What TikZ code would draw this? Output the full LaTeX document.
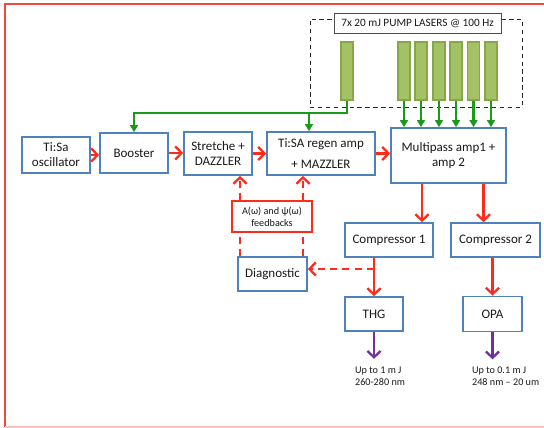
\documentclass[tikz,border=0pt]{standalone}
\usepackage{fontspec}
\setmainfont{Carlito}
\usetikzlibrary{arrows.meta, positioning, calc}
\definecolor{BoxBlue}{HTML}{4F81BD}
\definecolor{BeamRed}{HTML}{FF2A1A}
\definecolor{FrameRed}{HTML}{F04A40}
\definecolor{PumpGreen}{HTML}{1A9A1A}
\definecolor{LaserFill}{HTML}{A4C165}
\definecolor{LaserEdge}{HTML}{86A64A}
\definecolor{OutPurple}{HTML}{7030A0}
\definecolor{TextDark}{HTML}{1A1A1A}

\begin{document}
\begin{tikzpicture}[
        x=0.02cm, y=-0.02cm,
        blk/.style={rectangle, draw=BoxBlue, line width=1pt, fill=white, align=center, inner sep=1pt, text=TextDark, font=\fontsize{7.4}{8.6}\selectfont},
        fbbox/.style={rectangle, draw=BeamRed, line width=0.9pt, fill=white, align=center, inner sep=1pt, text=TextDark, font=\fontsize{5.8}{7}\selectfont},
        laser/.style={rectangle, draw=LaserEdge, line width=0.7pt, fill=LaserFill, minimum width=0.24cm, minimum height=1.16cm, inner sep=0pt},
        outtxt/.style={align=left, inner sep=1pt, text=TextDark, font=\fontsize{5.8}{6.8}\selectfont},
        arr/.style={-{Straight Barb[length=3.6pt, width=7.5pt, line width=1.3pt]}, line width=1.4pt, BeamRed},
        darr/.style={arr, dash pattern=on 4pt off 3pt},
        dline/.style={line width=1.4pt, BeamRed, dash pattern=on 4pt off 3pt},
        garr/.style={-{Triangle[length=4pt, width=4.5pt]}, line width=1.2pt, PumpGreen},
        parr/.style={-{Straight Barb[length=3.6pt, width=7.5pt, line width=1.3pt]}, line width=1.5pt, OutPurple}
      ]
        \useasboundingbox (0,0) rectangle (544,428);
        \draw[FrameRed, line width=1.3pt] (5,427) -- (5,4) -- (544,4);
        \draw[FrameRed!35, line width=0.8pt] (5,427) -- (544,427);

        \node[draw=black!85, line width=0.5pt, dash pattern=on 2.5pt off 2pt, minimum width=4.24cm, minimum height=1.76cm] (pumpbox) at (416,63) {};
        \node[draw=black!70, line width=0.5pt, fill=white, minimum width=3.34cm, minimum height=0.4cm, inner sep=1pt, text=TextDark, font=\fontsize{6.4}{7.6}\selectfont] (title) at (417.5,23) {7x 20 mJ PUMP LASERS @ 100 Hz};
        \node[laser] (l1) at (347,71) {};
        \foreach \i/\xx in {2/404, 3/421, 4/439, 5/456, 6/473.5, 7/491}
          \node[laser] (l\i) at (\xx,71) {};

        \node[blk, minimum width=1.36cm, minimum height=0.72cm] (osc) at (56,155) {Ti:Sa\\oscillator};
        \node[blk, minimum width=1.36cm, minimum height=0.8cm] (boost) at (134,153) {Booster};
        \node[blk, minimum width=1.36cm, minimum height=0.86cm] (stretch) at (218,153.5) {Stretche +\\DAZZLER};
        \node[blk, minimum width=2.16cm, minimum height=0.86cm] (regen) at (321,153.5) {Ti:SA regen amp\\[3.5pt]+ MAZZLER};
        \node[blk, minimum width=2.3cm, minimum height=1.1cm] (multi) at (448.5,155.5) {Multipass amp1 +\\amp 2};
        \node[blk, minimum width=1.76cm, minimum height=0.68cm] (compA) at (389,240) {Compressor 1};
        \node[blk, minimum width=1.78cm, minimum height=0.68cm] (compB) at (495.5,240) {Compressor 2};
        \node[blk, minimum width=1.16cm, minimum height=0.68cm] (thg) at (374,314) {THG};
        \node[blk, minimum width=1.18cm, minimum height=0.7cm] (opa) at (492.5,314) {OPA};
        \node[blk, minimum width=1.38cm, minimum height=0.68cm] (diag) at (272.5,274) {Diagnostic};
        \node[fbbox, minimum width=1.6cm, minimum height=0.62cm] (fb) at (272,216.5) {A(ω) and ψ(ω)\\feedbacks};
        \node[outtxt, anchor=north west] (thgout) at (353,365) {Up to 1 m J\\260-280 nm};
        \node[outtxt, anchor=north west] (opaout) at (470,365) {Up to 0.1 m J\\248 nm -- 20 um};

        \coordinate (gbus) at (309,112);
        \coordinate (cAx) at (422,0);
        \coordinate (cBx) at (483.5,0);
        \coordinate (tap) at (374,269);
        \coordinate (fbL) at (240,0);
        \coordinate (fbR) at (303,0);

        \draw[garr] (l1.south) -- ++(0,12) -| (boost.north);
        \draw[garr] (gbus) -- (gbus |- regen.north);
        \foreach \i in {2,...,7}
          \draw[garr] (l\i.south) -- (l\i.south |- multi.north);

        \draw[arr] (osc.east) -- (osc.east -| boost.west);
        \draw[arr] (boost.east) -- (boost.east -| stretch.west);
        \draw[arr] (stretch.east) -- (stretch.east -| regen.west);
        \draw[arr] (regen.east) -- (regen.east -| multi.west);
        \draw[arr] (multi.south -| cAx) -- (compA.north -| cAx);
        \draw[arr] (multi.south -| cBx) -- (compB.north -| cBx);
        \draw[arr] (thg.north |- compA.south) -- (thg.north);
        \draw[arr] (opa.north |- compB.south) -- (opa.north);

        \draw[darr] (tap) -- (tap -| diag.east);
        \draw[dline] (diag.north -| fbL) -- (fb.south -| fbL);
        \draw[dline] (diag.north -| fbR) -- (fb.south -| fbR);
        \draw[darr] (fb.north -| fbL) -- (stretch.south -| fbL);
        \draw[darr] (fb.north -| fbR) -- (regen.south -| fbR);

        \draw[parr] (thg.south) -- ++(0,27);
        \draw[parr] (opa.south) -- ++(0,27);
      \end{tikzpicture}
\end{document}
